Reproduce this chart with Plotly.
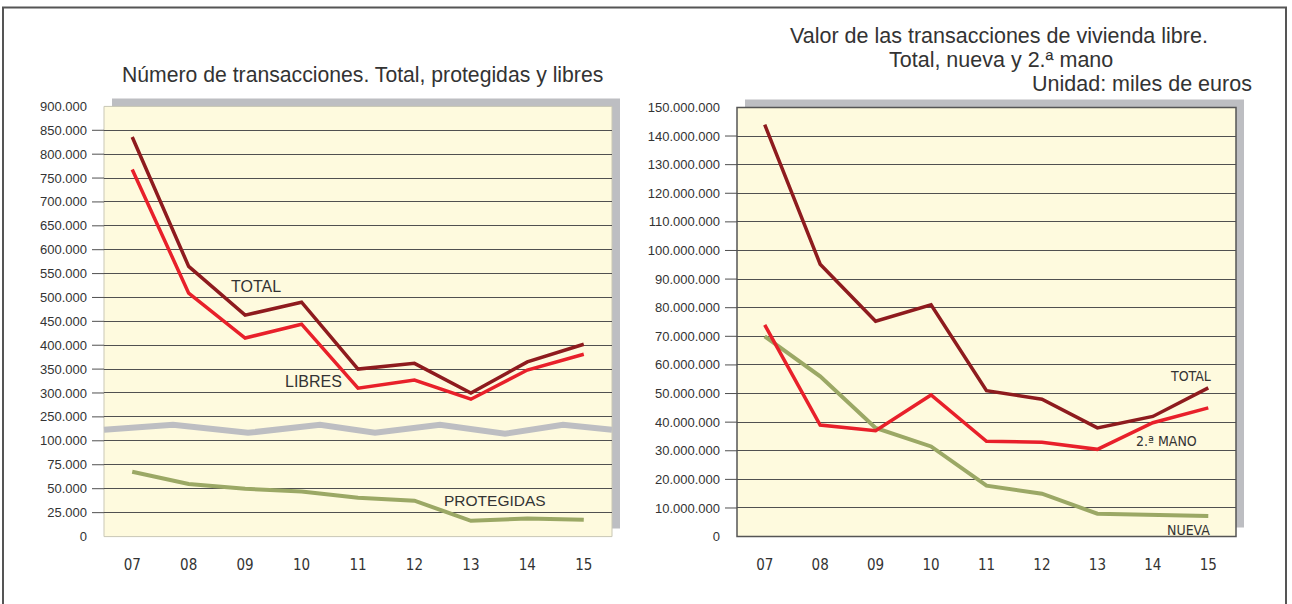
import plotly.graph_objects as go

# ---------------- data ----------------
years = ["07", "08", "09", "10", "11", "12", "13", "14", "15"]

# Left chart: number of transactions
num_total = [836000, 565000, 463000, 490000, 350000, 362000, 300000, 365000, 402000]
num_libres = [768000, 509000, 415000, 444000, 310000, 327000, 287000, 348000, 381000]
num_protegidas = [67700, 55000, 50000, 47000, 40500, 37500, 16500, 19000, 17500]

left_ticks_low = [0, 25000, 50000, 75000, 100000]
left_ticks_high = [250000, 300000, 350000, 400000, 450000, 500000, 550000, 600000,
                   650000, 700000, 750000, 800000, 850000, 900000]

# Right chart: value of transactions (miles de euros)
val_total = [144.0e6, 95.2e6, 75.3e6, 81.0e6, 51.0e6, 48.0e6, 38.0e6, 42.0e6, 52.0e6]
val_segunda = [74.0e6, 39.0e6, 37.0e6, 49.5e6, 33.3e6, 33.0e6, 30.5e6, 39.8e6, 45.0e6]
val_nueva = [70.0e6, 56.0e6, 38.0e6, 31.5e6, 17.8e6, 15.0e6, 8.0e6, 7.5e6, 7.2e6]

right_ticks = [i * 10_000_000 for i in range(16)]

# ---------------- style ----------------
W, H = 1292, 604
# measured vertical mapping of the rendered page (screen_y = A + S * layout_y)
A_OFF, S_SCALE = 5.4, 0.977
C_TOTAL = "#8E1B1E"
C_RED = "#E8202A"
C_GREEN = "#9BA865"
GRID = "#505050"
TXT = "#333333"
FONT = "Liberation Sans, Arial, sans-serif"
NARROW = "Liberation Sans Narrow, DejaVu Sans Condensed, Liberation Sans, Arial, sans-serif"
YELLOW = "#FEFADE"
SHADOW = "#BDBEC2"


def px(x):
    return x / W


def py(y):
    ly = (y - A_OFF) / S_SCALE
    return 1 - ly / H


def fmt(v):
    return f"{int(v):,}".replace(",", ".")


fig = go.Figure()

# left chart traces
fig.add_trace(go.Scatter(x=years, y=num_total, mode="lines", xaxis="x", yaxis="y2",
                         line=dict(color=C_TOTAL, width=3.5), name="TOTAL"))
fig.add_trace(go.Scatter(x=years, y=num_libres, mode="lines", xaxis="x", yaxis="y2",
                         line=dict(color=C_RED, width=3.5), name="LIBRES"))
fig.add_trace(go.Scatter(x=years, y=num_protegidas, mode="lines", xaxis="x", yaxis="y",
                         line=dict(color=C_GREEN, width=4), name="PROTEGIDAS"))

# right chart traces
fig.add_trace(go.Scatter(x=years, y=val_nueva, mode="lines", xaxis="x3", yaxis="y3",
                         line=dict(color=C_GREEN, width=4), name="NUEVA"))
fig.add_trace(go.Scatter(x=years, y=val_segunda, mode="lines", xaxis="x3", yaxis="y3",
                         line=dict(color=C_RED, width=3.5), name="2.ª MANO"))
fig.add_trace(go.Scatter(x=years, y=val_total, mode="lines", xaxis="x3", yaxis="y3",
                         line=dict(color=C_TOTAL, width=3.5), name="TOTAL"))

xcommon = dict(type="category", range=[-0.5, 8.5], showgrid=False, zeroline=False,
               showline=False, ticks="", ticklabelstandoff=17,
               tickfont=dict(family=NARROW, size=15, color=TXT), fixedrange=True)
ycommon = dict(showgrid=True, gridcolor=GRID, gridwidth=1, zeroline=False, showline=False,
               ticks="", ticklabelstandoff=16,
               tickfont=dict(family=FONT, size=13, color=TXT), fixedrange=True)

shapes = []
# outer border
shapes.append(dict(type="rect", xref="paper", yref="paper", x0=px(3), x1=px(1286),
                   y0=-0.05, y1=1 - 0.6 / H, line=dict(color="#555555", width=2),
                   layer="below"))
# shadows and plot backgrounds
shapes.append(dict(type="rect", xref="paper", yref="paper", x0=px(112), x1=px(620),
                   y0=py(528), y1=py(97), fillcolor=SHADOW, line=dict(width=0), layer="below"))
shapes.append(dict(type="rect", xref="paper", yref="paper", x0=px(104), x1=px(612),
                   y0=py(536), y1=py(105), fillcolor=YELLOW,
                   line=dict(color="#C9C7B5", width=1), layer="below"))
shapes.append(dict(type="rect", xref="paper", yref="paper", x0=px(745), x1=px(1244),
                   y0=py(527), y1=py(98), fillcolor=SHADOW, line=dict(width=0), layer="below"))
shapes.append(dict(type="rect", xref="paper", yref="paper", x0=px(737), x1=px(1236),
                   y0=py(536), y1=py(106), fillcolor=YELLOW,
                   line=dict(color="#555555", width=1.5), layer="below"))

# tick marks (inner values only)
for v in left_ticks_low[1:]:
    shapes.append(dict(type="line", xref="paper", yref="y", x0=px(92), x1=px(104),
                       y0=v, y1=v, line=dict(color=GRID, width=1)))
for v in left_ticks_high[:-1]:
    shapes.append(dict(type="line", xref="paper", yref="y2", x0=px(92), x1=px(104),
                       y0=v, y1=v, line=dict(color=GRID, width=1)))
for v in right_ticks[1:-1]:
    shapes.append(dict(type="line", xref="paper", yref="y3", x0=px(725), x1=px(737),
                       y0=v, y1=v, line=dict(color=GRID, width=1)))

# axis-break zigzag
zig = [(104, 429), (173, 424), (248, 432), (320, 424), (375, 432), (440, 424),
       (505, 433), (563, 424), (612, 429)]
path = "M " + " L ".join(f"{px(x):.5f},{py(y):.5f}" for x, y in zig)
shapes.append(dict(type="path", xref="paper", yref="paper", path=path,
                   line=dict(color=SHADOW, width=6), layer="above"))

annotations = []


def note(text, x, y, size=14, family=FONT, xanchor="center"):
    annotations.append(dict(text=text, x=px(x), y=py(y), xref="paper", yref="paper",
                            showarrow=False, xanchor=xanchor, yanchor="middle",
                            font=dict(family=family, size=size, color=TXT)))


# titles
note("Número de transacciones. Total, protegidas y libres", 362, 74, size=21.2)
note("Valor de las transacciones de vivienda libre.", 999, 34, size=21.5)
note("Total, nueva y 2.ª mano", 1001, 58, size=21.5)
note("Unidad: miles de euros", 1254, 83, size=21.5, xanchor="right")

# series labels
note("TOTAL", 256, 285, size=16)
note("LIBRES", 313, 381, size=16)
note("PROTEGIDAS", 495, 500, size=15.5)
note("TOTAL", 1190, 375, size=14, family=NARROW)
note("2.ª MANO", 1166, 440, size=14, family=NARROW)
note("NUEVA", 1188, 529, size=14, family=NARROW)

fig.update_layout(
    width=W, height=H,
    autosize=False,
    margin=dict(l=0, r=0, t=0, b=0, pad=0),
    paper_bgcolor="white",
    plot_bgcolor="rgba(0,0,0,0)",
    showlegend=False,
    xaxis=dict(domain=[px(104), px(612)], anchor="y", **xcommon),
    yaxis=dict(domain=[py(536), py(428)], range=[0, 112500], anchor="x",
               tickvals=left_ticks_low, ticktext=[fmt(v) for v in left_ticks_low], **ycommon),
    yaxis2=dict(domain=[py(428), py(105)], range=[225000, 900000], anchor="x",
                tickvals=left_ticks_high, ticktext=[fmt(v) for v in left_ticks_high], **ycommon),
    xaxis3=dict(domain=[px(737), px(1236)], anchor="y3", **xcommon),
    yaxis3=dict(domain=[py(536), py(106)], range=[0, 150_000_000], anchor="x3",
                tickvals=right_ticks, ticktext=[fmt(v) for v in right_ticks], **ycommon),
    shapes=shapes,
    annotations=annotations,
)

fig.write_html(
    "out.html",
    config={"responsive": False, "displayModeBar": False},
    post_script="document.body.style.margin='0';document.body.style.overflow='hidden';",
)
